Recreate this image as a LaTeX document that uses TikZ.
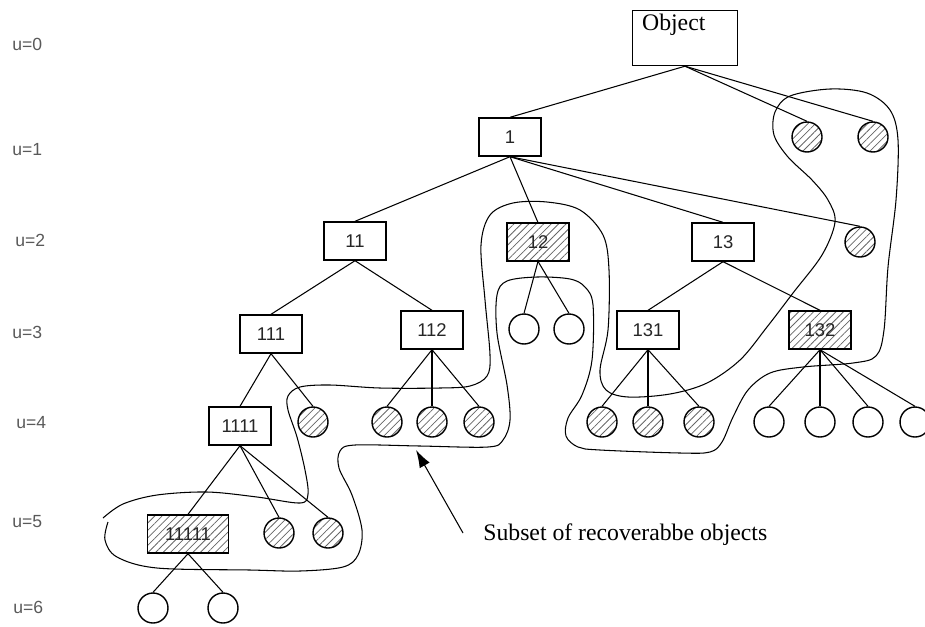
\documentclass[tikz,border=0pt]{standalone}
\usepackage{fontspec}
\setmainfont{Liberation Serif}
\setsansfont{Liberation Sans}
\usepackage{tikz}
\usetikzlibrary{arrows.meta}
\usetikzlibrary{patterns.meta}
\tikzset{>={Latex[length=10pt,width=6.5pt]}}
\tikzset{
	obj/.style={draw,line width=0.8pt,minimum width=1.24cm,minimum height=0.76cm,inner sep=0pt,text=black!85,font=\sffamily\fontsize{10.5}{12}\selectfont},
	hobj/.style={obj,pattern={Lines[angle=45,distance=3pt,line width=0.45pt]},pattern color=black!60},
	leaf/.style={draw,circle,line width=0.8pt,minimum size=0.6cm,inner sep=0pt},
	hleaf/.style={leaf,pattern={Lines[angle=45,distance=3pt,line width=0.45pt]},pattern color=black!60},
	level/.style={anchor=west,inner sep=0pt,text=black!65,font=\sffamily\fontsize{10}{12}\selectfont},
	edge/.style={line width=0.6pt}
}

\begin{document}
\begin{tikzpicture}[x=0.02cm,y=-0.02cm]
		\useasboundingbox (0,0) rectangle (925,626);
		
		\foreach \u/\x/\y in {0/12/44,1/12/150,2/15/240,3/12/332,4/16/423,5/12/522,6/13/607}
		{
			\node[level] (u\u) at (\x,\y) {u=\u};
		}
		
		\node[obj,minimum width=2.1cm,minimum height=1.1cm] (root) at (685,38) {};
		\node[anchor=north west,inner sep=0pt,xshift=0.2cm,yshift=-0.08cm,font=\fontsize{13.5}{16}\selectfont] (roottxt) at (root.north west) {Object};
		
		\node[obj] (n1) at (510,137) {1};
		\node[obj] (n11) at (355,241) {11};
		\node[hobj] (n12) at (538,242) {12};
		\node[obj] (n13) at (723,242) {13};
		\node[obj] (n111) at (271,334) {111};
		\node[obj] (n112) at (432,330) {112};
		\node[obj] (n131) at (648,330) {131};
		\node[hobj] (n132) at (820,330) {132};
		\node[obj] (n1111) at (240,426) {1111};
		\node[hobj,minimum width=1.62cm] (n11111) at (188,534) {11111};
		
		\foreach \x [count=\i] in {807,873}
		{
			\node[hleaf] (a\i) at (\x,137) {};
		}
		\node[hleaf] (b1) at (860,242) {};
		\foreach \x [count=\i] in {524,569}
		{
			\node[leaf] (c\i) at (\x,329) {};
		}
		\node[hleaf] (d1) at (313,422) {};
		\foreach \x [count=\i] in {387,432,479}
		{
			\node[hleaf] (e\i) at (\x,422) {};
		}
		\foreach \x [count=\i] in {602,648,699}
		{
			\node[hleaf] (f\i) at (\x,422) {};
		}
		\foreach \x [count=\i] in {769,820,868,915}
		{
			\node[leaf] (g\i) at (\x,422) {};
		}
		\foreach \x [count=\i] in {279,328}
		{
			\node[hleaf] (h\i) at (\x,533) {};
		}
		\foreach \x [count=\i] in {153,223}
		{
			\node[leaf] (k\i) at (\x,608) {};
		}
		
		\foreach \p/\c in {root/n1,root/a1,root/a2,n1/n11,n1/n12,n1/n13,n1/b1,
			n11/n111,n11/n112,n12/c1,n12/c2,n13/n131,n13/n132,
			n111/n1111,n111/d1,n112/e1,n112/e2,n112/e3,
			n131/f1,n131/f2,n131/f3,n132/g1,n132/g2,n132/g3,n132/g4,
			n1111/n11111,n1111/h1,n1111/h2,n11111/k1,n11111/k2}
		{
			\draw[edge] (\p.south) -- (\c.north);
		}
		
		\draw[line width=0.6pt] plot[smooth,tension=0.55] coordinates {
			(103,518) (123,504) (157,495) (207,492) (257,497) (300,503) (308,494)
			(305,470) (297,437) (288,410) (288,396) (300,387) (330,385) (380,388)
			(440,388) (470,386) (487,376) (490,355) (485,300) (481,245) (490,215)
			(513,203) (547,202) (580,210) (603,235) (609,270) (608,330) (600,370)
			(606,390) (628,397) (670,394) (707,383) (740,360) (767,327) (793,293)
			(822,255) (835,222) (828,200) (812,180) (788,157) (774,135) (775,112)
			(790,96) (830,89) (867,93) (890,110) (898,140) (896,200) (888,267)
			(884,330) (876,356) (853,363) (803,367) (770,373) (748,390) (733,417)
			(722,442) (710,452) (680,453) (600,450) (578,447) (566,436) (568,418)
			(582,395) (592,360) (593,305) (585,287) (570,279) (537,277) (507,281)
			(497,295) (497,333) (507,385) (510,420) (503,440) (488,447) (420,446)
			(355,445) (340,451) (339,468) (352,495) (362,530) (358,555) (343,567)
			(300,571) (250,570) (157,568) (117,557) (105,540) (108,522)
		};
		
		\node[anchor=base west,inner sep=0pt,font=\fontsize{13.5}{16}\selectfont] (caption) at (483,540) {Subset of recoverabbe objects};
		\coordinate (tail) at (463,533);
		\coordinate (tip) at (416,450);
		\draw[->,line width=0.6pt] (tail) -- (tip);
	\end{tikzpicture}
\end{document}
